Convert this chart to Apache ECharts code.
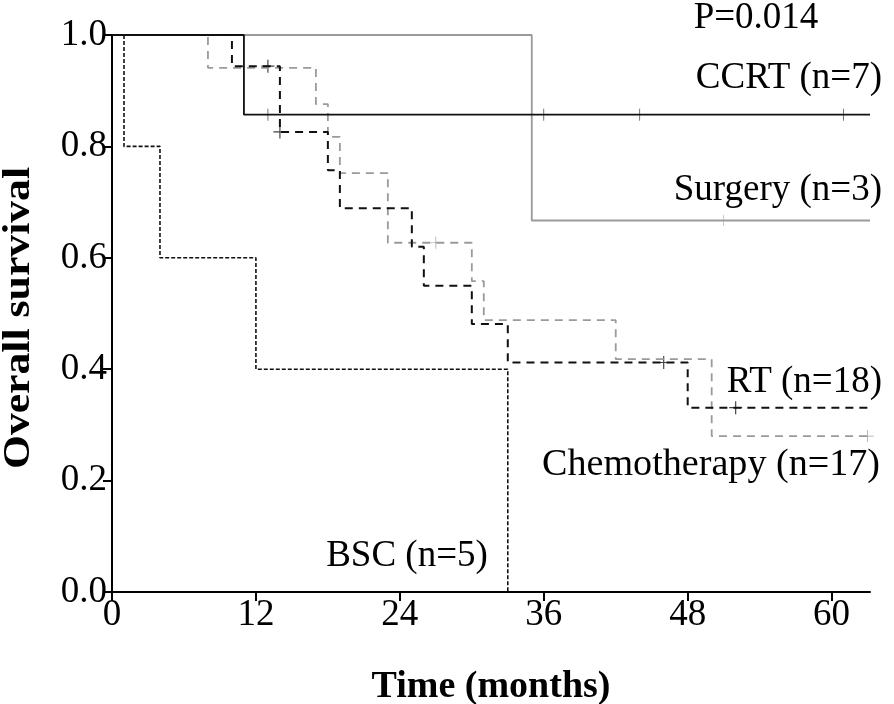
<!DOCTYPE html>
<html>
<head>
<meta charset="utf-8">
<script src="https://cdn.jsdelivr.net/npm/echarts@6/dist/echarts.min.js"></script>
<style>html,body{margin:0;padding:0;background:#fff;}#c{width:894px;height:704px;}</style>
</head>
<body>
<div id="c"></div>
<script>
// ---- data ----
const xTicks = [0, 12, 24, 36, 48, 60];
const yTicks = [0, 0.2, 0.4, 0.6, 0.8, 1.0];
const xMax = 63.2;

const ccrtTime = [0, 11, 63.2];
const ccrtSurv = [1, 0.857, 0.857];
const ccrtCensorTime = [13, 36, 44, 61];
const ccrtCensorSurv = [0.857, 0.857, 0.857, 0.857];

const surgeryTime = [0, 35, 63.2];
const surgerySurv = [1, 0.667, 0.667];
const surgeryCensorTime = [51];
const surgeryCensorSurv = [0.667];

const rtTime = [0, 10, 14, 18, 19, 25, 26, 30, 33, 48, 63.2];
const rtSurv = [1, 0.944, 0.826, 0.757, 0.689, 0.62, 0.55, 0.481, 0.412, 0.331, 0.331];
const rtCensorTime = [13, 14, 46, 52];
const rtCensorSurv = [0.944, 0.826, 0.412, 0.331];

const chemoTime = [0, 8, 17, 18, 19, 23, 30, 31, 42, 50, 63];
const chemoSurv = [1, 0.941, 0.876, 0.817, 0.752, 0.627, 0.558, 0.488, 0.418, 0.28, 0.28];
const chemoCensorTime = [27, 63];
const chemoCensorSurv = [0.627, 0.28];

const bscTime = [0, 1, 4, 12, 33];
const bscSurv = [1, 0.8, 0.6, 0.4, 0];

const labels = {
  p: 'P=0.014',
  ccrt: 'CCRT (n=7)',
  surgery: 'Surgery (n=3)',
  rt: 'RT (n=18)',
  chemo: 'Chemotherapy (n=17)',
  bsc: 'BSC (n=5)',
  xTitle: 'Time (months)',
  yTitle: 'Overall survival'
};

// ---- chart ----
const zip = (a, b) => a.map((v, i) => [v, b[i]]);
const plus = 'path://M-0.09,-1H0.09V-0.09H1V0.09H0.09V1H-0.09V0.09H-1V-0.09H-0.09Z';
const plusThin = 'path://M-0.06,-1H0.06V-0.06H1V0.06H0.06V1H-0.06V0.06H-1V-0.06H-0.06Z';
const FONT = '"Liberation Serif", "Times New Roman", serif';

function stepLine(name, t, s, color, type, width) {
  return {
    name, type: 'line', step: 'end', data: zip(t, s), showSymbol: false, symbol: 'none',
    lineStyle: { color, width, type }, silent: true, animation: false
  };
}
function censor(name, t, s, color, sym, size) {
  return {
    name, type: 'scatter', data: zip(t, s), symbol: sym, symbolSize: size,
    itemStyle: { color }, silent: true, animation: false
  };
}

const chart = echarts.init(document.getElementById('c'), null, { renderer: 'canvas' });
const txt = (text, x, y, align, opts, font) => Object.assign({
  type: 'text', x, y,
  style: { text, font: font || ('37px ' + FONT), fill: '#000', align, verticalAlign: 'middle' }
}, opts || {});

chart.setOption({
  backgroundColor: '#fff',
  animation: false,
  grid: { left: 112, right: 24, top: 35, bottom: 112, outerBoundsMode: 'none', containLabel: false },
  xAxis: {
    type: 'value', min: 0, max: xMax,
    name: labels.xTitle, nameLocation: 'middle', nameGap: 76,
    nameTextStyle: { fontFamily: FONT, fontSize: 38, fontWeight: 'bold', color: '#000' },
    axisLine: { show: true, lineStyle: { color: '#000', width: 2 } },
    axisTick: { show: true, length: 9, customValues: xTicks, lineStyle: { color: '#000', width: 2 } },
    axisLabel: { customValues: xTicks, fontFamily: FONT, fontSize: 37, color: '#000', margin: 5 },
    splitLine: { show: false }
  },
  yAxis: {
    type: 'value', min: 0, max: 1, interval: 0.2,
    axisLine: { show: true, lineStyle: { color: '#000', width: 2 } },
    axisTick: { show: true, length: 9, customValues: yTicks, lineStyle: { color: '#000', width: 2 } },
    axisLabel: { customValues: yTicks, fontFamily: FONT, fontSize: 37, color: '#000', margin: 5,
      formatter: v => v.toFixed(1) },
    splitLine: { show: false }
  },
  series: [
    stepLine('Surgery', surgeryTime, surgerySurv, '#9a9a9a', 'solid', 1.8),
    stepLine('Chemotherapy', chemoTime, chemoSurv, '#9a9a9a', [8, 6], 1.8),
    stepLine('CCRT', ccrtTime, ccrtSurv, '#111', 'solid', 1.8),
    stepLine('RT', rtTime, rtSurv, '#111', [8, 6], 2),
    stepLine('BSC', bscTime, bscSurv, '#111', [4, 2], 1.6),
    censor('Surgery censored', surgeryCensorTime, surgeryCensorSurv, '#9a9a9a', plusThin, 11),
    censor('Chemotherapy censored', chemoCensorTime, chemoCensorSurv, '#8a8a8a', plusThin, 12),
    censor('CCRT censored', ccrtCensorTime, ccrtCensorSurv, '#111', plusThin, 12),
    censor('RT censored', rtCensorTime, rtCensorSurv, '#111', plus, 13)
  ],
  graphic: [
    txt(labels.p, 756, 18, 'center'),
    txt(labels.ccrt, 882, 78, 'right'),
    txt(labels.surgery, 882, 190, 'right'),
    txt(labels.rt, 882, 382, 'right'),
    txt(labels.chemo, 880, 465, 'right', { scaleX: 1.03 }),
    txt(labels.bsc, 407, 556, 'center'),
    txt(labels.yTitle, 19, 318, 'center', { rotation: Math.PI / 2, scaleX: 1.15 }, 'bold 38px ' + FONT)
  ]
});
</script>
</body>
</html>
